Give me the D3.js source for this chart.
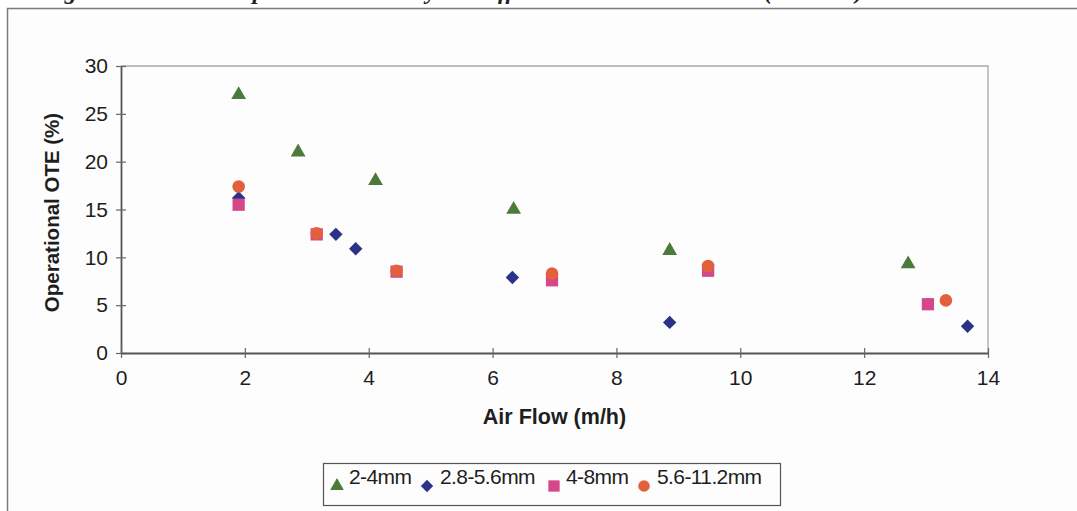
<!DOCTYPE html>
<html>
<head>
<meta charset="utf-8">
<script src="https://cdn.jsdelivr.net/npm/d3@7"></script>
<style>
  html, body { margin: 0; padding: 0; background: #ffffff; }
  svg { display: block; }
</style>
</head>
<body>
<svg id="chart" width="1077" height="511"></svg>
<script>
// Operational OTE against air flow for four media size ranges
const seriesNames = ["2-4mm", "2.8-5.6mm", "4-8mm", "5.6-11.2mm"];

const airFlow_2_4   = [1.9, 2.86, 4.11, 6.34, 8.86, 12.71];
const ote_2_4       = [27.0, 21.0, 18.0, 15.0, 10.7, 9.3];

const airFlow_28_56 = [1.9, 3.47, 3.79, 6.32, 8.86, 13.67];
const ote_28_56     = [16.2, 12.4, 10.9, 7.9, 3.2, 2.8];

const airFlow_4_8   = [1.9, 3.16, 4.45, 6.96, 9.48, 13.03];
const ote_4_8       = [15.5, 12.4, 8.5, 7.6, 8.6, 5.1];

const airFlow_56_112 = [1.9, 3.16, 4.45, 6.96, 9.48, 13.32];
const ote_56_112     = [17.4, 12.5, 8.6, 8.3, 9.1, 5.5];

const xTicks = [0, 2, 4, 6, 8, 10, 12, 14];
const yTicks = [0, 5, 10, 15, 20, 25, 30];

const xTitle = "Air Flow (m/h)";
const yTitle = "Operational OTE (%)";
const figTitle = "Figure 5.10: Mean Operational OTE by the different media sizes studied (Tank A1)";

const svg = d3.select("#chart");

// page caption, mostly above the visible page
svg.append("text")
  .attr("x", 42).attr("y", -1)
  .attr("font-family", "Liberation Serif, serif")
  .attr("font-weight", "bold").attr("font-style", "italic")
  .attr("font-size", 24).attr("fill", "#222")
  .text(figTitle);

// chart frame
svg.append("rect")
  .attr("x", 7.5).attr("y", 8.5)
  .attr("width", 1100).attr("height", 520)
  .attr("fill", "#fdfdfd").attr("stroke", "#7a7a7a").attr("stroke-width", 1.5);

const x = d3.scaleLinear().domain([0, 14]).range([121, 988]);
const y = d3.scaleLinear().domain([0, 30]).range([353, 66]);

// plot area outline (top and right)
svg.append("path")
  .attr("d", `M${x(0)},${y(30)}H${x(14)}V${y(0)}`)
  .attr("fill", "none").attr("stroke", "#a8a8a8").attr("stroke-width", 1.3);

const fontAxis = "Liberation Sans, Arial, sans-serif";

const yAxis = svg.append("g")
  .attr("transform", `translate(${x(0)},0)`)
  .call(d3.axisLeft(y).tickValues(yTicks).tickSizeOuter(0).tickSizeInner(5).tickPadding(14));
const xAxis = svg.append("g")
  .attr("transform", `translate(0,${y(0)})`)
  .call(d3.axisBottom(x).tickValues(xTicks).tickSizeOuter(0).tickSizeInner(5).tickPadding(14));

[yAxis, xAxis].forEach(g => {
  g.select(".domain").attr("stroke", "#555").attr("stroke-width", 1.8);
  g.selectAll(".tick line").attr("stroke", "#666").attr("stroke-width", 1.2);
  g.selectAll(".tick text")
    .attr("font-family", fontAxis).attr("font-size", 21).attr("fill", "#1e1e1e");
});
// ticks cross the axis lines
yAxis.selectAll(".tick line").attr("x1", 5).attr("x2", -5);
xAxis.selectAll(".tick line").attr("y1", -5).attr("y2", 5);
yAxis.selectAll(".tick text").attr("x", -13);
xAxis.selectAll(".tick text").attr("y", 17);

// axis titles
svg.append("text")
  .attr("transform", `translate(59,${(y(0) + y(30)) / 2 + 3}) rotate(-90)`)
  .attr("text-anchor", "middle")
  .attr("font-family", fontAxis).attr("font-weight", "bold")
  .attr("font-size", 20.5).attr("fill", "#1e1e1e")
  .text(yTitle);
svg.append("text")
  .attr("x", (x(0) + x(14)) / 2).attr("y", 424)
  .attr("text-anchor", "middle")
  .attr("font-family", fontAxis).attr("font-weight", "bold")
  .attr("font-size", 21.5).attr("fill", "#1e1e1e")
  .text(xTitle);

// marker styles per series (diamond = square turned 45 degrees)
const markers = [
  { symbol: d3.symbolTriangle, size: 95,  color: "#4c7a3a", rot: 0 },
  { symbol: d3.symbolSquare,   size: 90,  color: "#2b3389", rot: 45 },
  { symbol: d3.symbolSquare,   size: 150, color: "#d4478a", rot: 0 },
  { symbol: d3.symbolCircle,   size: 125, color: "#e2603c", rot: 0 }
];

const series = [
  { xs: airFlow_2_4,    ys: ote_2_4 },
  { xs: airFlow_28_56,  ys: ote_28_56 },
  { xs: airFlow_4_8,    ys: ote_4_8 },
  { xs: airFlow_56_112, ys: ote_56_112 }
];

series.forEach((s, i) => {
  const m = markers[i];
  const pts = s.xs.map((v, k) => [v, s.ys[k]]);
  svg.append("g").selectAll("path")
    .data(pts)
    .join("path")
    .attr("transform", d => `translate(${x(d[0])},${y(d[1])}) rotate(${m.rot})`)
    .attr("d", d3.symbol().type(m.symbol).size(m.size))
    .attr("fill", m.color);
});

// legend
const legend = svg.append("g");
legend.append("rect")
  .attr("x", 323.5).attr("y", 463.5).attr("width", 457).attr("height", 42)
  .attr("fill", "#fdfdfd").attr("stroke", "#555").attr("stroke-width", 1.2);

const legendMarkX = [337, 427, 554, 644];
const legendTextX = [349, 440, 566, 657];
seriesNames.forEach((name, i) => {
  const m = markers[i];
  legend.append("path")
    .attr("transform", `translate(${legendMarkX[i]},486) rotate(${m.rot})`)
    .attr("d", d3.symbol().type(m.symbol).size(m.size * 0.85))
    .attr("fill", m.color);
  legend.append("text")
    .attr("x", legendTextX[i]).attr("y", 484)
    .attr("font-family", fontAxis).attr("font-size", 21)
    .attr("letter-spacing", -0.6).attr("fill", "#1e1e1e")
    .text(name);
});
</script>
</body>
</html>
